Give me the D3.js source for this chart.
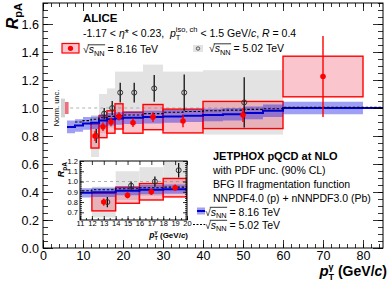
<!DOCTYPE html>
<html>
<head>
<meta charset="utf-8">
<script src="https://cdn.jsdelivr.net/npm/d3@7"></script>
<style>
  body { margin: 0; background: #fff; }
  svg text { font-family: "Liberation Sans", Arial, sans-serif; fill: #000; }
</style>
</head>
<body>
<svg id="chart" width="389" height="285"></svg>
<script>
'use strict';

// ALICE 8.16 TeV
var bins816Lo = [12, 14, 16, 18, 20, 25, 30, 40, 60];
var bins816Hi = [14, 16, 18, 20, 25, 30, 40, 60, 80];
var rpa816 = [0.80, 0.866, 0.90, 0.94, 0.895, 0.935, 0.907, 0.95, 1.225];
var stat816 = [0.035, 0.03, 0.03, 0.03, 0.03, 0.035, 0.045, 0.05, 0.29];
var sys816 = [0.086, 0.078, 0.08, 0.09, 0.075, 0.09, 0.085, 0.097, 0.145];

// ALICE 5.02 TeV
var bins502Lo = [12, 14, 16, 18, 20, 25, 30, 40];
var bins502Hi = [14, 16, 18, 20, 25, 30, 40, 60];
var pt502 = [13.3, 15.3, 17.3, 19.3, 22.8, 27.8, 35.3, 50.3];
var rpa502 = [0.80, 0.96, 1.00, 1.11, 1.11, 1.14, 1.11, 1.04];
var stat502 = [0.05, 0.04, 0.05, 0.07, 0.07, 0.095, 0.13, 0.18];
var sys502 = [0.15, 0.14, 0.14, 0.15, 0.15, 0.17, 0.15, 0.23];

// normalisation uncertainties
var norm816 = 0.043;
var norm502 = 0.067;

// JETPHOX NLO
var thLo = [6, 8, 10, 12, 14, 16, 18, 20, 25, 30, 35, 40, 45, 50, 55, 60];
var thHi = [8, 10, 12, 14, 16, 18, 20, 25, 30, 35, 40, 45, 50, 55, 60, 80];
var th816 = [0.865, 0.875, 0.89, 0.895, 0.91, 0.92, 0.925, 0.93, 0.935, 0.94, 0.945, 0.95, 0.955, 0.965, 0.98, 1.0];
var th816Unc = [0.045, 0.045, 0.045, 0.045, 0.045, 0.045, 0.045, 0.045, 0.045, 0.045, 0.045, 0.045, 0.045, 0.045, 0.045, 0.045];
var th502 = [null, 0.90, 0.91, 0.92, 0.93, 0.94, 0.945, 0.95, 0.96, 0.97, 0.975, 0.98, 0.985, 0.99, 0.995, 1.005];

var xTicks = [0, 10, 20, 30, 40, 50, 60, 70, 80];
var yTicks = [0, 0.2, 0.4, 0.6, 0.8, 1.0, 1.2, 1.4, 1.6];
var xTicksInset = [11, 12, 13, 14, 15, 16, 17, 18, 19, 20];
var yTicksInset = [0.7, 0.8, 0.9, 1.0, 1.1, 1.2];

var RED = '#ff0000',
  BAND = '#2a2ae6',
  BLUE = '#0000cc';

var svg = d3.select('#chart');

var x = d3.scaleLinear().domain([0, 85]).range([43, 383]);
var y = d3.scaleLinear().domain([0, 1.75]).range([248, 3]);

function addAxis(g, axis, translate, vals, len, fmt, fs, pad) {
  var a = g.append('g')
    .attr('transform', translate)
    .call(axis.tickValues(vals).tickSize(-len).tickPadding(pad === undefined ? 4 : pad).tickFormat(fmt || ''));
  a.select('.domain').remove();
  a.selectAll('line').attr('stroke', '#000').attr('stroke-width', 0.8);
  a.selectAll('text').attr('font-size', fs);
  return a;
}

// lay out text pieces one after the other (sub/superscripts, italics)
function rich(parent, px, py, parts, anchor, rot) {
  var g = parent.append('g');
  var cx = 0, pending = 0, barFrom = null, barTo = null, barY = 0;
  parts.forEach(function(p) {
    var t = g.append('text')
      .attr('x', cx)
      .attr('y', p.dy || 0)
      .attr('font-size', p.size)
      .attr('font-weight', p.bold ? 'bold' : null)
      .attr('font-style', p.it ? 'italic' : null)
      .text(p.t.replace(/ /g, '\u00a0'));
    var w = t.node().getComputedTextLength();
    if (p.bar) {
      if (barFrom === null) { barFrom = cx; barY = -p.size * 0.78; }
      barTo = cx + w;
    }
    if (p.stack) {
      pending = w;
    } else {
      cx += Math.max(w, pending);
      pending = 0;
    }
  });
  if (barFrom !== null) {
    g.append('line')
      .attr('x1', barFrom - 1).attr('x2', barTo + 0.5)
      .attr('y1', barY).attr('y2', barY)
      .attr('stroke', '#000').attr('stroke-width', 0.8);
  }
  var shift = anchor === 'end' ? -cx : anchor === 'middle' ? -cx / 2 : 0;
  g.attr('transform', 'translate(' + px + ',' + py + ') rotate(' + (rot || 0) + ') translate(' + shift + ',0)');
  return g;
}

function sqrtS(fs, energy) {
  return [
    { t: '\u221a', size: fs },
    { t: 's', size: fs, it: true, bar: true },
    { t: 'NN', size: fs * 0.7, dy: 2.5, bar: true },
    { t: ' = ' + energy + ' TeV', size: fs }
  ];
}

function stepPoints(vals) {
  var pts = [];
  vals.forEach(function(v, i) {
    if (v !== null) pts.push([thLo[i], v]);
  });
  return pts;
}

function drawData(g, xs, ys, main) {
  var xMax = xs.domain()[1];

  // 5.02 TeV systematic boxes
  g.selectAll(null).data(rpa502).enter().append('rect')
    .attr('x', function(d, i) { return xs(bins502Lo[i]); })
    .attr('width', function(d, i) { return xs(bins502Hi[i]) - xs(bins502Lo[i]); })
    .attr('y', function(d, i) { return ys(d + sys502[i]); })
    .attr('height', function(d, i) { return ys(d - sys502[i]) - ys(d + sys502[i]); })
    .attr('fill', '#e3e3e3');

  // unity
  g.append('line')
    .attr('x1', xs(main ? 6.8 : xs.domain()[0])).attr('x2', xs(xMax))
    .attr('y1', ys(1)).attr('y2', ys(1))
    .attr('stroke', '#a8a8a8').attr('stroke-width', 0.9).attr('stroke-dasharray', '3,3');

  // 8.16 TeV systematic boxes
  g.selectAll(null).data(rpa816).enter().append('rect')
    .attr('x', function(d, i) { return xs(bins816Lo[i]); })
    .attr('width', function(d, i) { return xs(bins816Hi[i]) - xs(bins816Lo[i]); })
    .attr('y', function(d, i) { return ys(d + sys816[i]); })
    .attr('height', function(d, i) { return ys(d - sys816[i]) - ys(d + sys816[i]); })
    .attr('fill', '#f03050').attr('fill-opacity', 0.28)
    .attr('stroke', RED).attr('stroke-width', 1.4);

  // JETPHOX band and central lines
  var bandPts = th816.map(function(v, i) { return [thLo[i], v, th816Unc[i]]; });
  bandPts.push([80, th816[th816.length - 1], th816Unc[th816Unc.length - 1]]);
  g.append('path')
    .datum(bandPts)
    .attr('d', d3.area()
      .curve(d3.curveStepAfter)
      .x(function(d) { return xs(d[0]); })
      .y0(function(d) { return ys(d[1] - d[2]); })
      .y1(function(d) { return ys(d[1] + d[2]); }))
    .attr('fill', BAND).attr('fill-opacity', 0.45);

  var line = d3.line()
    .curve(d3.curveStepAfter)
    .x(function(d) { return xs(d[0]); })
    .y(function(d) { return ys(d[1]); });

  var p816 = stepPoints(th816);
  p816.push([85, th816[th816.length - 1]]);
  g.append('path').datum(p816).attr('d', line)
    .attr('fill', 'none').attr('stroke', BLUE).attr('stroke-width', 2);

  var p502 = stepPoints(th502);
  p502.push([85, th502[th502.length - 1]]);
  g.append('path').datum(p502).attr('d', line)
    .attr('fill', 'none').attr('stroke', '#000').attr('stroke-width', 1.1)
    .attr('stroke-dasharray', '2.5,1.8');

  // 5.02 TeV points
  g.selectAll(null).data(rpa502).enter().append('line')
    .attr('x1', function(d, i) { return xs(pt502[i]); })
    .attr('x2', function(d, i) { return xs(pt502[i]); })
    .attr('y1', function(d, i) { return ys(d + stat502[i]); })
    .attr('y2', function(d, i) { return ys(d - stat502[i]); })
    .attr('stroke', '#000').attr('stroke-width', 1.2);
  g.selectAll(null).data(rpa502).enter().append('circle')
    .attr('cx', function(d, i) { return xs(pt502[i]); })
    .attr('cy', function(d) { return ys(d); })
    .attr('r', 2.5)
    .attr('fill', 'none').attr('stroke', '#333').attr('stroke-width', 1);

  // 8.16 TeV points
  g.selectAll(null).data(rpa816).enter().append('line')
    .attr('x1', function(d, i) { return xs((bins816Lo[i] + bins816Hi[i]) / 2); })
    .attr('x2', function(d, i) { return xs((bins816Lo[i] + bins816Hi[i]) / 2); })
    .attr('y1', function(d, i) { return ys(d + stat816[i]); })
    .attr('y2', function(d, i) { return ys(d - stat816[i]); })
    .attr('stroke', RED).attr('stroke-width', 1.4);
  g.selectAll(null).data(rpa816).enter().append('circle')
    .attr('cx', function(d, i) { return xs((bins816Lo[i] + bins816Hi[i]) / 2); })
    .attr('cy', function(d) { return ys(d); })
    .attr('r', 2.8)
    .attr('fill', RED);
}

// ---- main panel ----
var main = svg.append('g');
drawData(main, x, y, true);

// normalisation boxes
main.append('rect')
  .attr('x', x(4.5)).attr('width', x(5.5) - x(4.5))
  .attr('y', y(1 + norm502)).attr('height', y(1 - norm502) - y(1 + norm502))
  .attr('fill', '#d2d2d2');
main.append('rect')
  .attr('x', x(5.5)).attr('width', x(6.4) - x(5.5))
  .attr('y', y(1 + norm816)).attr('height', y(1 - norm816) - y(1 + norm816))
  .attr('fill', '#ee5566').attr('fill-opacity', 0.85);
main.append('text')
  .attr('transform', 'translate(59,108) rotate(-90)')
  .attr('text-anchor', 'middle')
  .attr('font-size', 7.5)
  .text('Norm. unc.');

var xMinor = d3.range(0, 85.01, 2);
var yMinor = d3.range(0, 1.751, 0.05);
addAxis(main, d3.axisBottom(x), 'translate(0,248)', xTicks, 8, d3.format('d'), 12.5, 3);
addAxis(main, d3.axisBottom(x), 'translate(0,248)', xMinor, 4, null, 0);
addAxis(main, d3.axisTop(x), 'translate(0,3)', xTicks, 8, null, 0);
addAxis(main, d3.axisTop(x), 'translate(0,3)', xMinor, 4, null, 0);
addAxis(main, d3.axisLeft(y), 'translate(43,0)', yTicks, 10, d3.format('.1f'), 12.5);
addAxis(main, d3.axisLeft(y), 'translate(43,0)', yMinor, 5, null, 0);
addAxis(main, d3.axisRight(y), 'translate(383,0)', yTicks, 10, null, 0);
addAxis(main, d3.axisRight(y), 'translate(383,0)', yMinor, 5, null, 0);

main.append('rect')
  .attr('x', 43).attr('y', 3).attr('width', 340).attr('height', 245)
  .attr('fill', 'none').attr('stroke', '#000').attr('stroke-width', 1);

// axis titles
rich(svg, 18, 3, [
  { t: 'R', size: 16, bold: true, it: true },
  { t: 'pA', size: 11, bold: true, dy: 4 }
], 'end', -90);

rich(svg, 387, 276, [
  { t: 'p', size: 15, bold: true, it: true },
  { t: '\u03b3', size: 9, bold: true, dy: -6, stack: true },
  { t: 'T', size: 9, bold: true, dy: 4 },
  { t: ' (GeV/', size: 14, bold: true },
  { t: 'c', size: 14, bold: true, it: true },
  { t: ')', size: 14, bold: true }
], 'end');

// ---- upper legend ----
svg.append('text').attr('x', 83).attr('y', 22).attr('font-size', 11.5).attr('font-weight', 'bold').text('ALICE');
rich(svg, 83, 37, [
  { t: '-1.17 < ', size: 10.5 },
  { t: '\u03b7', size: 10.5, it: true },
  { t: '* < 0.23,  ', size: 10.5 },
  { t: 'p', size: 10.5, it: true },
  { t: 'iso, ch', size: 7.5, dy: -5, stack: true },
  { t: 'T', size: 7.5, dy: 3 },
  { t: ' < 1.5 GeV/', size: 10.5 },
  { t: 'c', size: 10.5, it: true },
  { t: ', ', size: 10.5 },
  { t: 'R', size: 10.5, it: true },
  { t: ' = 0.4', size: 10.5 }
]);

svg.append('rect')
  .attr('x', 62).attr('y', 43.5).attr('width', 17).attr('height', 9.5)
  .attr('fill', '#f03050').attr('fill-opacity', 0.28)
  .attr('stroke', RED).attr('stroke-width', 1.2);
svg.append('circle').attr('cx', 70.5).attr('cy', 48.3).attr('r', 2.6).attr('fill', RED);
rich(svg, 83, 53, sqrtS(10.5, '8.16'));

svg.append('rect')
  .attr('x', 193).attr('y', 45).attr('width', 10).attr('height', 7)
  .attr('fill', '#e3e3e3');
svg.append('circle').attr('cx', 198).attr('cy', 48.5).attr('r', 1.7)
  .attr('fill', 'none').attr('stroke', '#333').attr('stroke-width', 0.8);
rich(svg, 209, 52, sqrtS(10.5, '5.02'));

// ---- theory legend ----
svg.append('text').attr('x', 213).attr('y', 160).attr('font-size', 11).attr('font-weight', 'bold').text('JETPHOX pQCD at NLO');
svg.append('text').attr('x', 213).attr('y', 174).attr('font-size', 10.5).text('with PDF unc. (90% CL)');
svg.append('text').attr('x', 213).attr('y', 188).attr('font-size', 10.5).text('BFG II fragmentation function');
svg.append('text').attr('x', 213).attr('y', 202).attr('font-size', 10.5).text('NNPDF4.0 (p) + nNNPDF3.0 (Pb)');

svg.append('rect').attr('x', 197).attr('y', 207.5).attr('width', 8).attr('height', 7)
  .attr('fill', BAND).attr('fill-opacity', 0.45);
svg.append('line').attr('x1', 197).attr('x2', 205).attr('y1', 211).attr('y2', 211)
  .attr('stroke', BLUE).attr('stroke-width', 2);
rich(svg, 205, 215.5, sqrtS(10.5, '8.16'));

svg.append('line').attr('x1', 193).attr('x2', 205).attr('y1', 224.5).attr('y2', 224.5)
  .attr('stroke', '#000').attr('stroke-width', 1).attr('stroke-dasharray', '2,1.5');
rich(svg, 205, 228.5, sqrtS(10.5, '5.02'));

// ---- inset ----
var xi = d3.scaleLinear().domain([11, 20]).range([80, 187]);
var yi = d3.scaleLinear().domain([0.625, 1.2]).range([220, 161]);

var inset = svg.append('g');
inset.append('rect')
  .attr('x', 80).attr('y', 161).attr('width', 107).attr('height', 59)
  .attr('fill', '#fff');

svg.append('clipPath').attr('id', 'insetClip')
  .append('rect').attr('x', 80).attr('y', 161).attr('width', 107).attr('height', 59);

var insetData = inset.append('g').attr('clip-path', 'url(#insetClip)');
drawData(insetData, xi, yi, false);

var xiMinor = d3.range(11, 20.01, 0.5);
var yiMinor = d3.range(0.64, 1.2, 0.02);
addAxis(inset, d3.axisBottom(xi), 'translate(0,220)', xTicksInset, 4, d3.format('d'), 7.5, 1);
addAxis(inset, d3.axisBottom(xi), 'translate(0,220)', xiMinor, 2, null, 0);
addAxis(inset, d3.axisTop(xi), 'translate(0,161)', xTicksInset, 4, null, 0);
addAxis(inset, d3.axisLeft(yi), 'translate(80,0)', yTicksInset, 4, d3.format('.1f'), 7.5, 2);
addAxis(inset, d3.axisLeft(yi), 'translate(80,0)', yiMinor, 2, null, 0);
addAxis(inset, d3.axisRight(yi), 'translate(187,0)', yTicksInset, 4, null, 0);
addAxis(inset, d3.axisRight(yi), 'translate(187,0)', yiMinor, 2, null, 0);

inset.append('rect')
  .attr('x', 80).attr('y', 161).attr('width', 107).attr('height', 59)
  .attr('fill', 'none').attr('stroke', '#000').attr('stroke-width', 1);

rich(svg, 64, 162, [
  { t: 'R', size: 9, bold: true, it: true },
  { t: 'pA', size: 6.5, bold: true, dy: 2.5 }
], 'end', -90);

rich(svg, 188, 237.5, [
  { t: 'p', size: 8.5, bold: true, it: true },
  { t: '\u03b3', size: 5.5, bold: true, dy: -3.5, stack: true },
  { t: 'T', size: 5.5, bold: true, dy: 2.5 },
  { t: ' (GeV/', size: 8, bold: true },
  { t: 'c', size: 8, bold: true, it: true },
  { t: ')', size: 8, bold: true }
], 'end');
</script>
</body>
</html>
